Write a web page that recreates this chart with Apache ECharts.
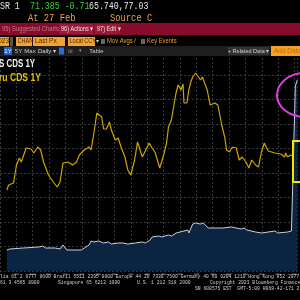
<!DOCTYPE html>
<html><head><meta charset="utf-8">
<script src="https://cdn.jsdelivr.net/npm/echarts@6/dist/echarts.min.js"></script>
<style>html,body{margin:0;padding:0;background:#000}#c{width:300px;height:300px}</style>
</head><body><div id="c"></div>
<script>
// ---- data (day index, value) ----
const peruDays = [7,9,14,15,17,20,22,27,32,35, 39,42,45,50,55,59,62,65,67,70, 72,75,79,82,87,92,94,97,100,102,
  105,107,110,113,115,119,122,125,129,132, 135,139,142,147,154,157,160,165,169,172, 174,177,180,182,184,185,187,189,190,193,
  195,197,199,202,204,205,207,209,210,214, 217,222,225,229,232,234,237,240,244,247, 250,254,257,260,264,267,270,273,277,284,
  290,294,295,297,300,303];
const peruVals = [81,86,88,86,106,113,109,123,122,118, 124,121,109,96,89,84,89,108,109,109, 108,106,109,116,121,124,121,138,158,159,
  154,142,142,149,141,131,133,124,114,101, 96,111,129,114,128,123,119,103,116,128, 144,151,168,179,186,188,181,187,168,168,
  181,189,194,198,198,194,191,194,192,181, 166,168,166,146,134,121,119,124,123,111, 114,109,103,111,106,104,119,128,120,118,
  117,114,118,114,116,115];
const sDays = [7,10,24,40,44,47,57,59,62,65, 69,70,84,87,92,94,97,102,107,112, 115,122,127,132,140,147,150,155,157,164,
  167,174,177,182,190,194,195,199,202,204, 207,210,215,224,230,239,244,249,252,255, 264,270,284,287,297,301,305,307];
const sVals = [21,22,23,24,25,23,23,25,22,26, 21,20,21,23,26,30,29,30,28,29, 27,28,28,27,28,29,28,31,34,35,
  34,36,35,38,40,41,38,47,48,49, 47,48,43,43,43,44,43,42,43,41, 39,38,40,38,39,40,185,191];
const seriesNames = ['S CDS 1Y', 'ru CDS 1Y'];
const tickMark = '\u25AC';

const chart = echarts.init(document.getElementById('c'), null, {renderer:'canvas'});
const grid = 'rgba(70,70,70,0.8)';
const mono = '"Liberation Mono", "DejaVu Sans Mono", monospace';
const sans = '"Liberation Sans", Arial, sans-serif';
function T(x, y, text, fill, size, o) {
  o = o || {};
  return {type:'text', x:x, y:y, z:100, scaleX:o.sx || 1,
    style:{text:text, fill:fill, font:(o.w||'normal')+' '+size+'px '+(o.f||sans),
      align:o.a||'left', verticalAlign:'middle'}};
}
function R(x, y, w, h, fill, z) {
  return {type:'rect', z:z||99, shape:{x:x,y:y,width:w,height:h}, style:{fill:fill}};
}
const og = '#f3a333', ogText = '#4a2a00';
const graphics = [
  // header rows
  T(0, 6, 'SR 1', '#e8e8e8', 11, {f:mono, sx:0.75}),
  T(30, 6, '71.385 -0.71', '#3ccf3c', 11, {f:mono, sx:0.75}),
  T(89, 6, '65.740,77.03', '#e8e8e8', 11, {f:mono, sx:0.75}),
  T(28, 18, 'At 27 Feb', '#f0a040', 11, {f:mono, sx:0.8}),
  T(110, 18, 'Source C', '#f0a040', 11, {f:mono, sx:0.8}),
  // red band
  R(0, 23, 300, 12, '#870b2b'),
  T(2, 29, '95) Suggested Charts', '#c77a8a', 6.5, {sx:0.9}),
  R(59, 24, 34, 10, '#9a1838', 100),
  T(61, 29, '96) Actions \u25BE', '#f0e0e4', 6.5, {sx:0.85}),
  R(95, 24, 25, 10, '#9a1838', 100),
  T(97, 29, '97) Edit \u25BE', '#f0e0e4', 6.5, {sx:0.85}),
  // input row
  R(0, 37, 9, 9, og, 100), T(9, 41.5, '2023', ogText, 6.5, {a:'right'}),
  R(10, 37, 3, 9, '#555', 100),
  R(16, 37, 16, 9, og, 100), T(17.5, 41.5, 'CHAN', ogText, 6.5, {sx:0.85}),
  R(33, 37, 32, 9, og, 100), T(35, 41.5, 'Last Px', ogText, 6.5),
  R(68, 37, 27, 9, og, 100), T(69.5, 41.5, 'Local CCY', ogText, 6.5, {sx:0.85}),
  T(96, 41.5, '\u25BE', '#cccccc', 6),
  R(101, 39, 4, 5, '#666', 100), T(107, 41.5, 'Mov Avgs /', '#f0a030', 6.5, {sx:0.9}),
  R(141, 39, 4, 5, '#666', 100), T(147, 41.5, 'Key Events', '#f0a030', 6.5, {sx:0.9}),
  // toolbar
  R(0, 46, 300, 10, '#1e1e1e'),
  R(4, 47, 8, 8, '#1f64c8', 100), T(8, 51, '1Y', '#ffffff', 6, {a:'center'}),
  T(18.5, 51, '5Y', '#c8c8c8', 6, {a:'center'}),
  T(30, 51, 'Max', '#c8c8c8', 6, {a:'center'}),
  T(47, 51, 'Daily \u25BE', '#d8d8d8', 6, {a:'center'}),
  R(59, 47.5, 5, 7, '#2a6fd6', 100),
  T(70.5, 51, 'l\u0131l', '#9a9a9a', 6, {a:'center'}),
  T(80, 51, '\u25BE', '#9a9a9a', 5, {a:'center'}),
  T(96.5, 51, 'Table', '#c8c8c8', 6, {a:'center'}),
  R(228, 47, 41, 8, '#333333', 100),
  T(248.5, 51, '+ Related Data \u25BE', '#d0d0d0', 5.8, {a:'center', sx:0.95}),
  R(271, 46, 29, 10, '#f4a12a', 100),
  T(274, 51, 'Add Data', '#c06a00', 6.5),
  // legend
  T(-1, 64, seriesNames[0], '#f0f0f0', 11, {w:'bold', sx:0.72}),
  T(-1, 77.5, seriesNames[1], '#e6c000', 11, {w:'bold', sx:0.78}),
  // annotations
  {type:'ellipse', z:100, shape:{cx:305, cy:95, rx:28, ry:22}, style:{fill:null, stroke:'#e23be2', lineWidth:2}},
  {type:'rect', z:100, shape:{x:293, y:141, width:12, height:41}, style:{fill:null, stroke:'#f2e600', lineWidth:2}},
  // footer
  T(0, 276.5, 'lia 61 2 9777 8600 Brazil 5511 2395 9000 Europe 44 20 7330 7500 Germany 49 69 9204 1210 Hong Kong 852 2977', '#d0d0d0', 4.72, {f:mono}),
  T(0, 282.5, '61 3 4565 8900', '#d0d0d0', 4.72, {f:mono}),
  T(58, 282.5, 'Singapore 65 6212 1000', '#d0d0d0', 4.72, {f:mono}),
  T(137, 282.5, 'U.S. 1 212 318 2000', '#d0d0d0', 4.72, {f:mono}),
  T(210, 282.5, 'Copyright 2023 Bloomberg Finance', '#d0d0d0', 4.72, {f:mono}),
  T(195, 288.5, 'SN 608575 EST  GMT-5:00 H968-42-171 2', '#d0d0d0', 4.72, {f:mono})
];

chart.setOption({
  backgroundColor:'#000',
  animation:false,
  grid:{left:-7, top:46, width:307, height:225},
  xAxis:{type:'value', min:0, max:307, interval:16.9,
    axisLine:{show:false}, axisTick:{show:false},
    axisLabel:{show:true, formatter:function(){return tickMark;}, color:'#555', fontSize:5, margin:0, showMinLabel:false, showMaxLabel:false},
    splitLine:{show:true, lineStyle:{color:grid, type:[2,2], width:1}}},
  yAxis:{type:'value', min:0, max:225, interval:24.5,
    axisLine:{show:false}, axisTick:{show:false}, axisLabel:{show:false},
    splitLine:{show:true, lineStyle:{color:grid, type:[2,2], width:1}}},
  series:[
    {name:seriesNames[0], type:'line', z:2, showSymbol:false, symbol:'none',
      data:sDays.map((d,i)=>[d, sVals[i]]),
      lineStyle:{color:'#c9cfd8', width:1}, areaStyle:{color:'#0b2442', opacity:1}},
    {name:seriesNames[1], type:'line', z:3, showSymbol:false, symbol:'none',
      data:peruDays.map((d,i)=>[d, peruVals[i]]),
      lineStyle:{color:'#c9a600', width:1.2}}
  ],
  graphic:graphics
});
</script></body></html>
